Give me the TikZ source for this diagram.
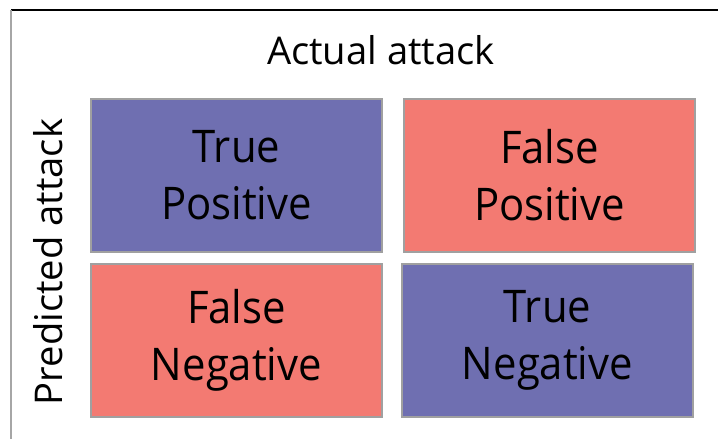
\documentclass[tikz,border=0pt]{standalone}
\usepackage{fontspec}
\setmainfont{Open Sans}
\newfontfamily\cellfont[FakeStretch=0.93]{Open Sans}
\definecolor{cellblue}{HTML}{6F6FB1}
\definecolor{cellred}{HTML}{F37A72}
\definecolor{celledge}{HTML}{A0A0A0}
\definecolor{frameedge}{HTML}{A6A6A6}
\begin{document}
\begin{tikzpicture}[x=1pt,y=-1pt,
  cell/.style={draw=celledge,line width=1.5pt,minimum width=291pt,minimum height=153pt,
    inner sep=0pt,align=center,font=\cellfont\fontsize{45}{57}\selectfont},
  bluecell/.style={cell,fill=cellblue},
  redcell/.style={cell,fill=cellred},
  axislabel/.style={font=\fontsize{38.2}{45}\selectfont,inner sep=0pt}]
\useasboundingbox (0,0) rectangle (718,439);
\fill[white] (0,0) rectangle (718,439);
% outer frame: dark top rule, grey left rule
\coordinate (ftl) at (11,10);
\coordinate (ftr) at (718,10);
\coordinate (fbl) at (11,439);
\draw[black,line width=1.4pt] (ftl) -- (ftr);
\draw[frameedge,line width=1.4pt] (ftl) -- (fbl);
% confusion matrix cells
\node[bluecell] (tp) at (236.5,175.5) {True\\Positive};
\node[redcell]  (fp) at (549.5,175.5) {False\\Positive};
\node[redcell]  (fn) at (236.5,340.5) {False\\Negative};
\node[bluecell] (tn) at (547.5,340.5) {True\\Negative};
% axis labels
\node[axislabel,anchor=base] (actual) at (381,64) {Actual attack};
\node[axislabel,anchor=base,rotate=90] (predicted) at (62,262) {Predicted attack};
\end{tikzpicture}
\end{document}
